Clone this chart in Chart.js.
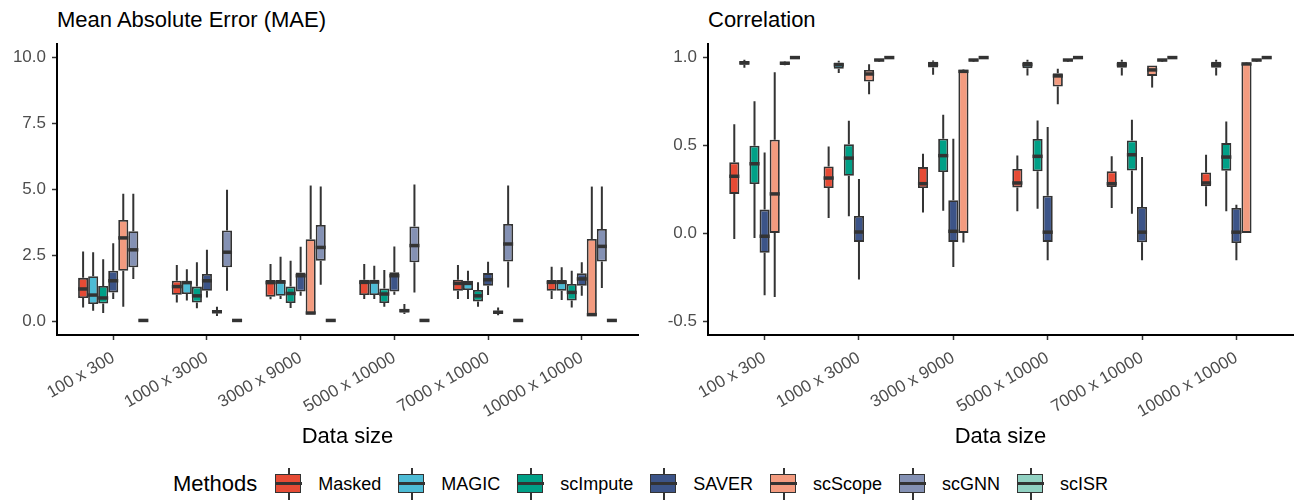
<!DOCTYPE html>
<html>
<head>
<meta charset="utf-8">
<script src="https://cdn.jsdelivr.net/npm/chart.js@4.4.0/dist/chart.umd.min.js"></script>
<style>
body { margin: 0; background: #fff; font-family: "Liberation Sans", Arial, sans-serif; }
#wrap { position: relative; width: 1298px; height: 500px; background: #fff; }
.title { position: absolute; top: 9px; font-size: 22px; line-height: 1; color: #000; }
#c1 { position: absolute; left: 0; top: 0; }
#c2 { position: absolute; left: 650px; top: 0; }
#legend { position: absolute; left: 0; top: 468px; width: 1298px; height: 32px;
  display: flex; justify-content: center; align-items: center; }
#legend .head { font-size: 22px; margin-right: 18px; }
#legend .key { position: relative; width: 27px; height: 32px; margin-right: 16px; }
#legend .key .wh { position: absolute; left: 12.5px; top: 0; width: 2px; height: 32px; background: #333; }
#legend .key .bx { position: absolute; left: 0; top: 6px; width: 24px; height: 17px; border: 1.5px solid #333; }
#legend .key .md { position: absolute; left: 0; top: 13.5px; width: 27px; height: 3px; background: #333; }
#legend .lab { font-size: 18px; margin-right: 17px; }
</style>
</head>
<body>
<div id="wrap">
  <div class="title" style="left:57px">Mean Absolute Error (MAE)</div>
  <div class="title" style="left:708px">Correlation</div>
  <canvas id="c1" width="650" height="460"></canvas>
  <canvas id="c2" width="648" height="460"></canvas>
  <div id="legend"></div>
</div>
<script>
// data sizes on the x axis
var categories = ['100 x 300', '1000 x 3000', '3000 x 9000', '5000 x 10000', '7000 x 10000', '10000 x 10000'];
var methods = ['Masked', 'MAGIC', 'scImpute', 'SAVER', 'scScope', 'scGNN', 'scISR'];
var colors = ['#E64B35', '#4DBBD5', '#00A087', '#3C5488', '#F39B7F', '#8491B4', '#91D1C2'];

// box stats per data size: [lower whisker, Q1, median, Q3, upper whisker]
var maeMasked = [[0.54, 0.90, 1.24, 1.66, 2.66], [0.73, 1.02, 1.33, 1.55, 2.15], [0.85, 0.95, 1.48, 1.58, 2.18],
                 [0.86, 1.01, 1.49, 1.59, 2.18], [0.86, 1.17, 1.45, 1.59, 2.15], [0.86, 1.17, 1.49, 1.58, 2.08]];
var maeMagic = [[0.42, 0.67, 1.01, 1.72, 2.63], [0.80, 1.05, 1.48, 1.52, 1.99], [0.86, 0.98, 1.50, 1.58, 2.46],
                [0.86, 1.01, 1.50, 1.59, 2.12], [0.86, 1.20, 1.45, 1.55, 1.93], [0.82, 1.17, 1.49, 1.58, 2.06]];
var maeScImpute = [[0.33, 0.69, 0.90, 1.35, 2.36], [0.51, 0.73, 0.98, 1.33, 2.25], [0.52, 0.71, 1.07, 1.33, 2.31],
                   [0.57, 0.71, 1.05, 1.26, 1.96], [0.57, 0.77, 0.98, 1.20, 1.49], [0.54, 0.80, 1.11, 1.43, 1.93]];
var maeSaver = [[0.86, 1.11, 1.55, 1.93, 2.97], [0.92, 1.17, 1.55, 1.81, 2.72], [0.98, 1.14, 1.74, 1.86, 2.84],
                [1.02, 1.14, 1.74, 1.87, 2.85], [1.01, 1.36, 1.59, 1.84, 2.27], [0.98, 1.36, 1.62, 1.83, 2.25]];
var maeScScope = [[0.57, 1.93, 3.17, 3.85, 4.84], [0.22, 0.32, 0.38, 0.44, 0.57], [0.29, 0.29, 0.33, 3.12, 5.15],
                  [0.29, 0.35, 0.42, 0.48, 0.67], [0.25, 0.30, 0.36, 0.42, 0.54], [0.23, 0.23, 0.27, 3.13, 5.11]];
var maeScGNN = [[1.62, 2.06, 2.72, 3.42, 4.84], [1.17, 2.06, 2.63, 3.45, 4.99], [1.40, 2.31, 2.81, 3.66, 5.11],
                [1.11, 2.25, 2.88, 3.60, 5.19], [1.30, 2.28, 2.94, 3.70, 5.15], [1.28, 2.28, 2.85, 3.51, 5.11]];
var maeScISR = [[0.02, 0.04, 0.05, 0.06, 0.08], [0.02, 0.04, 0.05, 0.06, 0.08], [0.02, 0.04, 0.05, 0.06, 0.08],
                [0.02, 0.04, 0.05, 0.06, 0.08], [0.02, 0.04, 0.05, 0.06, 0.08], [0.02, 0.04, 0.05, 0.06, 0.08]];

var corMasked = [[-0.03, 0.225, 0.325, 0.404, 0.62], [0.089, 0.258, 0.315, 0.381, 0.494], [0.12, 0.258, 0.283, 0.377, 0.453],
                 [0.126, 0.262, 0.287, 0.366, 0.443], [0.145, 0.264, 0.283, 0.353, 0.438], [0.155, 0.268, 0.287, 0.347, 0.447]];
var corMagic = [[0.94, 0.957, 0.968, 0.978, 0.985], [0.91, 0.934, 0.957, 0.97, 0.98], [0.90, 0.942, 0.96, 0.975, 0.982],
                [0.896, 0.938, 0.958, 0.975, 0.985], [0.896, 0.94, 0.958, 0.975, 0.985], [0.896, 0.94, 0.958, 0.975, 0.985]];
var corScImpute = [[-0.025, 0.281, 0.396, 0.498, 0.75], [0.098, 0.328, 0.428, 0.506, 0.64], [0.13, 0.349, 0.442, 0.538, 0.674],
                   [0.141, 0.353, 0.438, 0.536, 0.641], [0.113, 0.358, 0.447, 0.528, 0.645], [0.126, 0.357, 0.434, 0.513, 0.636]];
var corSaver = [[-0.35, -0.109, -0.015, 0.136, 0.46], [-0.26, -0.047, 0.009, 0.10, 0.31], [-0.19, -0.047, 0.013, 0.189, 0.538],
                [-0.151, -0.047, 0.008, 0.215, 0.604], [-0.151, -0.049, 0.008, 0.151, 0.434], [-0.151, -0.053, 0.008, 0.145, 0.164]];
var corScScope = [[-0.36, 0.004, 0.225, 0.532, 0.915], [0.79, 0.862, 0.905, 0.928, 0.96], [-0.05, 0.004, 0.92, 0.928, 0.93],
                  [0.734, 0.834, 0.894, 0.909, 0.934], [0.828, 0.894, 0.928, 0.953, 0.953], [0.004, 0.004, 0.962, 0.966, 0.97]];
var corScGNN = [[0.955, 0.96, 0.966, 0.972, 0.976], [0.975, 0.98, 0.984, 0.988, 0.99], [0.975, 0.98, 0.984, 0.988, 0.99],
                [0.975, 0.98, 0.984, 0.988, 0.99], [0.975, 0.98, 0.984, 0.988, 0.99], [0.975, 0.98, 0.984, 0.988, 0.99]];
var corScISR = [[0.995, 0.997, 0.998, 0.999, 1.0], [0.995, 0.997, 0.998, 0.999, 1.0], [0.995, 0.997, 0.998, 0.999, 1.0],
                [0.995, 0.997, 0.998, 0.999, 1.0], [0.995, 0.997, 0.998, 0.999, 1.0], [0.995, 0.997, 0.998, 0.999, 1.0]];

var maeTicks = [0, 2.5, 5, 7.5, 10];
var corTicks = [-0.5, 0, 0.5, 1];

Chart.defaults.font.family = '"Liberation Sans", Arial, sans-serif';

// whiskers behind the boxes, medians on top
function drawParts(chart, part) {
  var ctx = chart.ctx, ys = chart.scales.y;
  chart.data.datasets.forEach(function(ds, i) {
    var meta = chart.getDatasetMeta(i);
    meta.data.forEach(function(bar, j) {
      var s = ds.stats[j];
      ctx.save();
      ctx.strokeStyle = '#333333';
      ctx.lineCap = 'butt';
      ctx.beginPath();
      if (part === 'whisker') {
        ctx.lineWidth = 2;
        ctx.moveTo(bar.x, ys.getPixelForValue(s[0]));
        ctx.lineTo(bar.x, ys.getPixelForValue(s[1]));
        ctx.moveTo(bar.x, ys.getPixelForValue(s[3]));
        ctx.lineTo(bar.x, ys.getPixelForValue(s[4]));
      } else {
        var my = ys.getPixelForValue(s[2]);
        ctx.lineWidth = 3.5;
        ctx.moveTo(bar.x - bar.width / 2, my);
        ctx.lineTo(bar.x + bar.width / 2, my);
      }
      ctx.stroke();
      ctx.restore();
    });
  });
}
var boxPlugin = {
  id: 'boxWhisker',
  beforeDatasetsDraw: function(chart) { drawParts(chart, 'whisker'); },
  afterDatasetsDraw: function(chart) { drawParts(chart, 'median'); }
};

function makeDatasets(series) {
  return series.map(function(stats, k) {
    return {
      label: methods[k],
      stats: stats,
      data: stats.map(function(s, j) { return { x: j, y: [s[1], s[3]] }; }),
      backgroundColor: colors[k],
      borderColor: '#333333',
      borderWidth: 1.8,
      borderSkipped: false,
      categoryPercentage: 0.75,
      barPercentage: 1.0
    };
  });
}

function makeOptions(yMin, yMax, yTicks, axisW, padRight) {
  return {
    responsive: false,
    animation: false,
    devicePixelRatio: 1,
    layout: { padding: { top: 44, right: padRight, left: 0, bottom: 0 } },
    plugins: { legend: { display: false }, tooltip: { enabled: false } },
    scales: {
      x: {
        type: 'linear', min: -0.6, max: 5.6, offset: false,
        afterBuildTicks: function(s) { s.ticks = categories.map(function(c, i) { return { value: i }; }); },
        afterFit: function(s) { s.height = 125; },
        ticks: {
          autoSkip: false, minRotation: 30, maxRotation: 30, padding: 8,
          color: '#4D4D4D', font: { size: 17 },
          callback: function(v) { return categories[v]; }
        },
        grid: { offset: false, drawOnChartArea: false, tickLength: 5, tickColor: '#333333', tickWidth: 1.5 },
        border: { color: '#000', width: 2 },
        title: { display: true, text: 'Data size', color: '#000', font: { size: 22 }, padding: { top: 0, bottom: 10 } }
      },
      y: {
        min: yMin, max: yMax,
        afterBuildTicks: function(s) { s.ticks = yTicks.map(function(v) { return { value: v }; }); },
        afterFit: function(s) { s.width = axisW; },
        ticks: { color: '#4D4D4D', font: { size: 17 }, padding: 6,
                 callback: function(v) { return v.toFixed(1); } },
        grid: { drawOnChartArea: false, tickLength: 5, tickColor: '#333333', tickWidth: 1.5 },
        border: { color: '#000', width: 2 }
      }
    }
  };
}

new Chart(document.getElementById('c1'), {
  type: 'bar',
  data: { datasets: makeDatasets([maeMasked, maeMagic, maeScImpute, maeSaver, maeScScope, maeScGNN, maeScISR]) },
  options: makeOptions(-0.5, 10.5, maeTicks, 57, 12),
  plugins: [boxPlugin]
});

new Chart(document.getElementById('c2'), {
  type: 'bar',
  data: { datasets: makeDatasets([corMasked, corMagic, corScImpute, corSaver, corScScope, corScGNN, corScISR]) },
  options: makeOptions(-0.575, 1.075, corTicks, 58, 5),
  plugins: [boxPlugin]
});

// legend
var leg = document.getElementById('legend');
var html = '<span class="head">Methods</span>';
methods.forEach(function(m, k) {
  html += '<div class="key"><div class="wh"></div><div class="bx" style="background:' + colors[k] + '"></div><div class="md"></div></div>' +
          '<span class="lab">' + m + '</span>';
});
leg.innerHTML = html;
</script>
</body>
</html>
